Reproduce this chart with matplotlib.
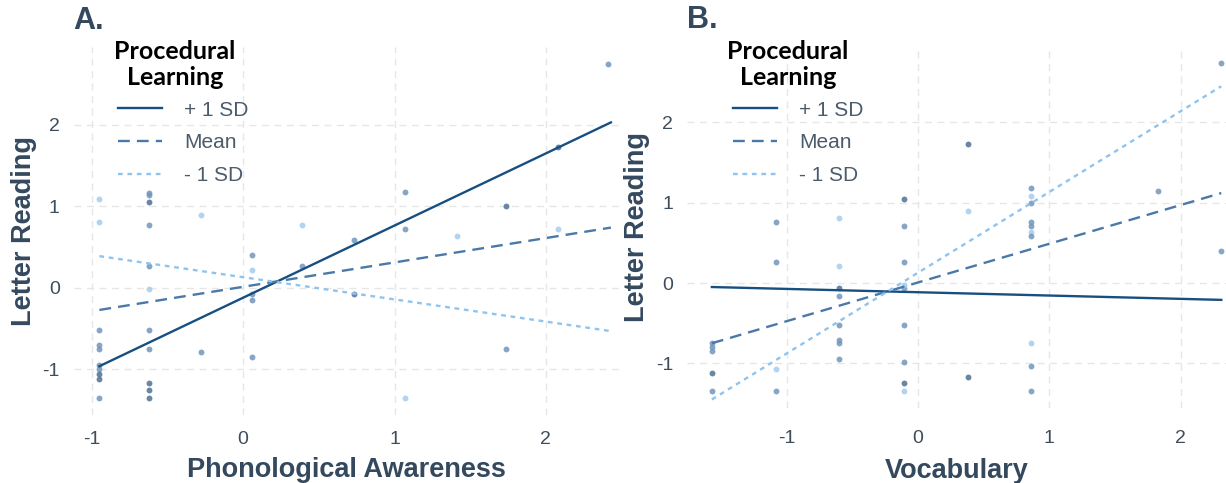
import numpy as np
import matplotlib.pyplot as plt

# ---- data ----
# shade: 0 = high procedural learning (dark), 1 = mid, 2 = low (light)
pa_x = [2.41, -0.95, -0.95, -0.62, -0.62, -0.62, -0.62, -0.28, 0.39, 1.07, 1.07, 1.74, 2.08,
        1.41, 0.73, 0.06, 0.06, 0.39, -0.62, -0.62, 0.06, 0.06, 0.73, -0.95, -0.62, -0.95,
        -0.95, -0.62, -0.28, 0.06, 1.74, -0.95, -0.95, -0.95, -0.95, -0.95, -0.62, -0.62,
        -0.62, 1.07, 2.08]
pa_y = [2.75, 1.09, 0.81, 1.16, 1.14, 1.05, 0.77, 0.90, 0.77, 1.18, 0.72, 1.00, 0.72,
        0.64, 0.59, 0.40, 0.22, 0.27, 0.27, -0.01, -0.07, -0.15, -0.07, -0.52, -0.52, -0.70,
        -0.75, -0.75, -0.79, -0.85, -0.75, -0.94, -1.00, -1.06, -1.12, -1.35, -1.17, -1.25,
        -1.35, -1.35, 1.73]
pa_shade = [1, 2, 2, 1, 1, 0, 1, 2, 2, 1, 1, 0, 2,
            2, 1, 1, 2, 1, 1, 2, 1, 1, 0, 1, 1, 1,
            1, 1, 1, 1, 1, 1, 1, 0, 0, 1, 0, 0,
            0, 2, 0]

voc_x = [2.31, 2.31, 1.83, 0.38, 0.38, 0.38, 0.86, 0.86, 0.86, 0.86, 0.86, 0.86, 0.86,
         0.86, 0.86, 0.86, -0.11, -0.11, -0.11, -0.11, -0.11, -0.11, -0.11, -0.11, -0.11,
         -0.60, -0.60, -0.60, -0.60, -0.60, -0.60, -0.60, -0.60, -1.08, -1.08, -1.08, -1.08,
         -1.57, -1.57, -1.57, -1.57, -1.57]
voc_y = [2.74, 0.40, 1.14, 1.73, 0.90, -1.17, 1.18, 1.08, 1.00, 0.76, 0.71, 0.63, 0.58,
         -0.75, -1.03, -1.35, 1.04, 0.71, 0.26, -0.06, -0.52, -0.98, -1.25, -1.35, -0.02,
         0.81, 0.21, -0.06, -0.16, -0.52, -0.71, -0.75, -0.94, 0.76, 0.26, -1.07, -1.35,
         -0.75, -0.80, -0.85, -1.12, -1.35]
voc_shade = [1, 1, 1, 0, 2, 0, 1, 2, 1, 1, 1, 2, 1,
             2, 1, 1, 0, 1, 1, 1, 1, 1, 0, 2, 2,
             2, 2, 0, 1, 1, 1, 1, 1, 1, 1, 2, 1,
             1, 1, 1, 0, 1]

# simple-slope lines: (x0, y0, x1, y1) for +1 SD, Mean, -1 SD
groups = ['+ 1 SD', 'Mean', '- 1 SD']
pa_lines = [(-0.95, -0.96, 2.43, 2.03), (-0.95, -0.27, 2.43, 0.74), (-0.95, 0.39, 2.43, -0.53)]
voc_lines = [(-1.57, -0.05, 2.31, -0.21), (-1.57, -0.75, 2.31, 1.12), (-1.57, -1.45, 2.31, 2.45)]

line_cols = ['#174f80', '#4a79a8', '#8ec4ef']
line_styles = ['-', (0, (5, 3)), (0, (2, 2))]
point_cols = ['#4f7296', '#7295bb', '#a6cdef']
text_col = '#34495e'

plt.rcParams['font.family'] = ['Liberation Sans', 'DejaVu Sans']
plt.rcParams['axes.unicode_minus'] = False

fig = plt.figure(figsize=(12.26, 4.83), dpi=100)
ax_a = fig.add_axes([0.0601, 0.1414, 0.4456, 0.7613])
ax_b = fig.add_axes([0.5603, 0.1555, 0.4397, 0.7499])


def draw_panel(ax, xs, ys, shades, lines, xlabel, title, xlim, xpad, lpad, leg_xy, ttl_xy):
    for xx, yy, s in zip(xs, ys, shades):
        ax.scatter(xx, yy, s=18, color=point_cols[s], alpha=0.85, lw=0, zorder=2)
    handles = []
    for (x0, y0, x1, y1), c, ls, g in zip(lines, line_cols, line_styles, groups):
        h, = ax.plot([x0, x1], [y0, y1], color=c, ls=ls, lw=1.7, zorder=3, label=g)
        handles.append(h)
    ax.set_xlim(*xlim)
    ax.set_ylim(-1.555, 2.955)
    ax.set_xticks([-1, 0, 1, 2])
    ax.set_yticks([-1, 0, 1, 2])
    ax.grid(True, color='#e6e6e6', ls=(0, (5, 4)), lw=1)
    ax.set_axisbelow(True)
    for sp in ax.spines.values():
        sp.set_visible(False)
    ax.tick_params(length=0, labelsize=14, labelcolor='#3e4d5c')
    ax.tick_params(axis='x', pad=xpad)
    ax.tick_params(axis='y', pad=10)
    ax.set_xlabel(xlabel, fontsize=19.5, fontweight='bold', color=text_col, labelpad=lpad)
    ax.set_ylabel('Letter Reading', fontsize=19.5, fontweight='bold', color=text_col, labelpad=4)
    ax.text(0.0, 1.03, title, transform=ax.transAxes, fontsize=22, fontweight='bold',
            color=text_col, va='bottom', ha='left')
    ax.legend(handles=handles, loc='upper left', bbox_to_anchor=leg_xy,
              frameon=False, fontsize=15, handlelength=2.15, handletextpad=1.05,
              labelspacing=0.66, labelcolor='#4b5b6b')
    ax.text(ttl_xy[0], ttl_xy[1], 'Procedural\nLearning', transform=ax.transAxes,
            ha='center', va='top', fontsize=18, fontweight='bold', color='black',
            family=['Lato', 'DejaVu Sans'], linespacing=1.12)


draw_panel(ax_a, pa_x, pa_y, pa_shade, pa_lines, 'Phonological Awareness', 'A.',
           (-1.12, 2.49), 12, 6, (0.046, 0.905), (0.185, 1.018))
draw_panel(ax_b, voc_x, voc_y, voc_shade, voc_lines, 'Vocabulary', 'B.',
           (-1.76, 2.346), 16, 8, (0.05, 0.90), (0.1876, 1.015))

fig.savefig('out.png', dpi=100)
